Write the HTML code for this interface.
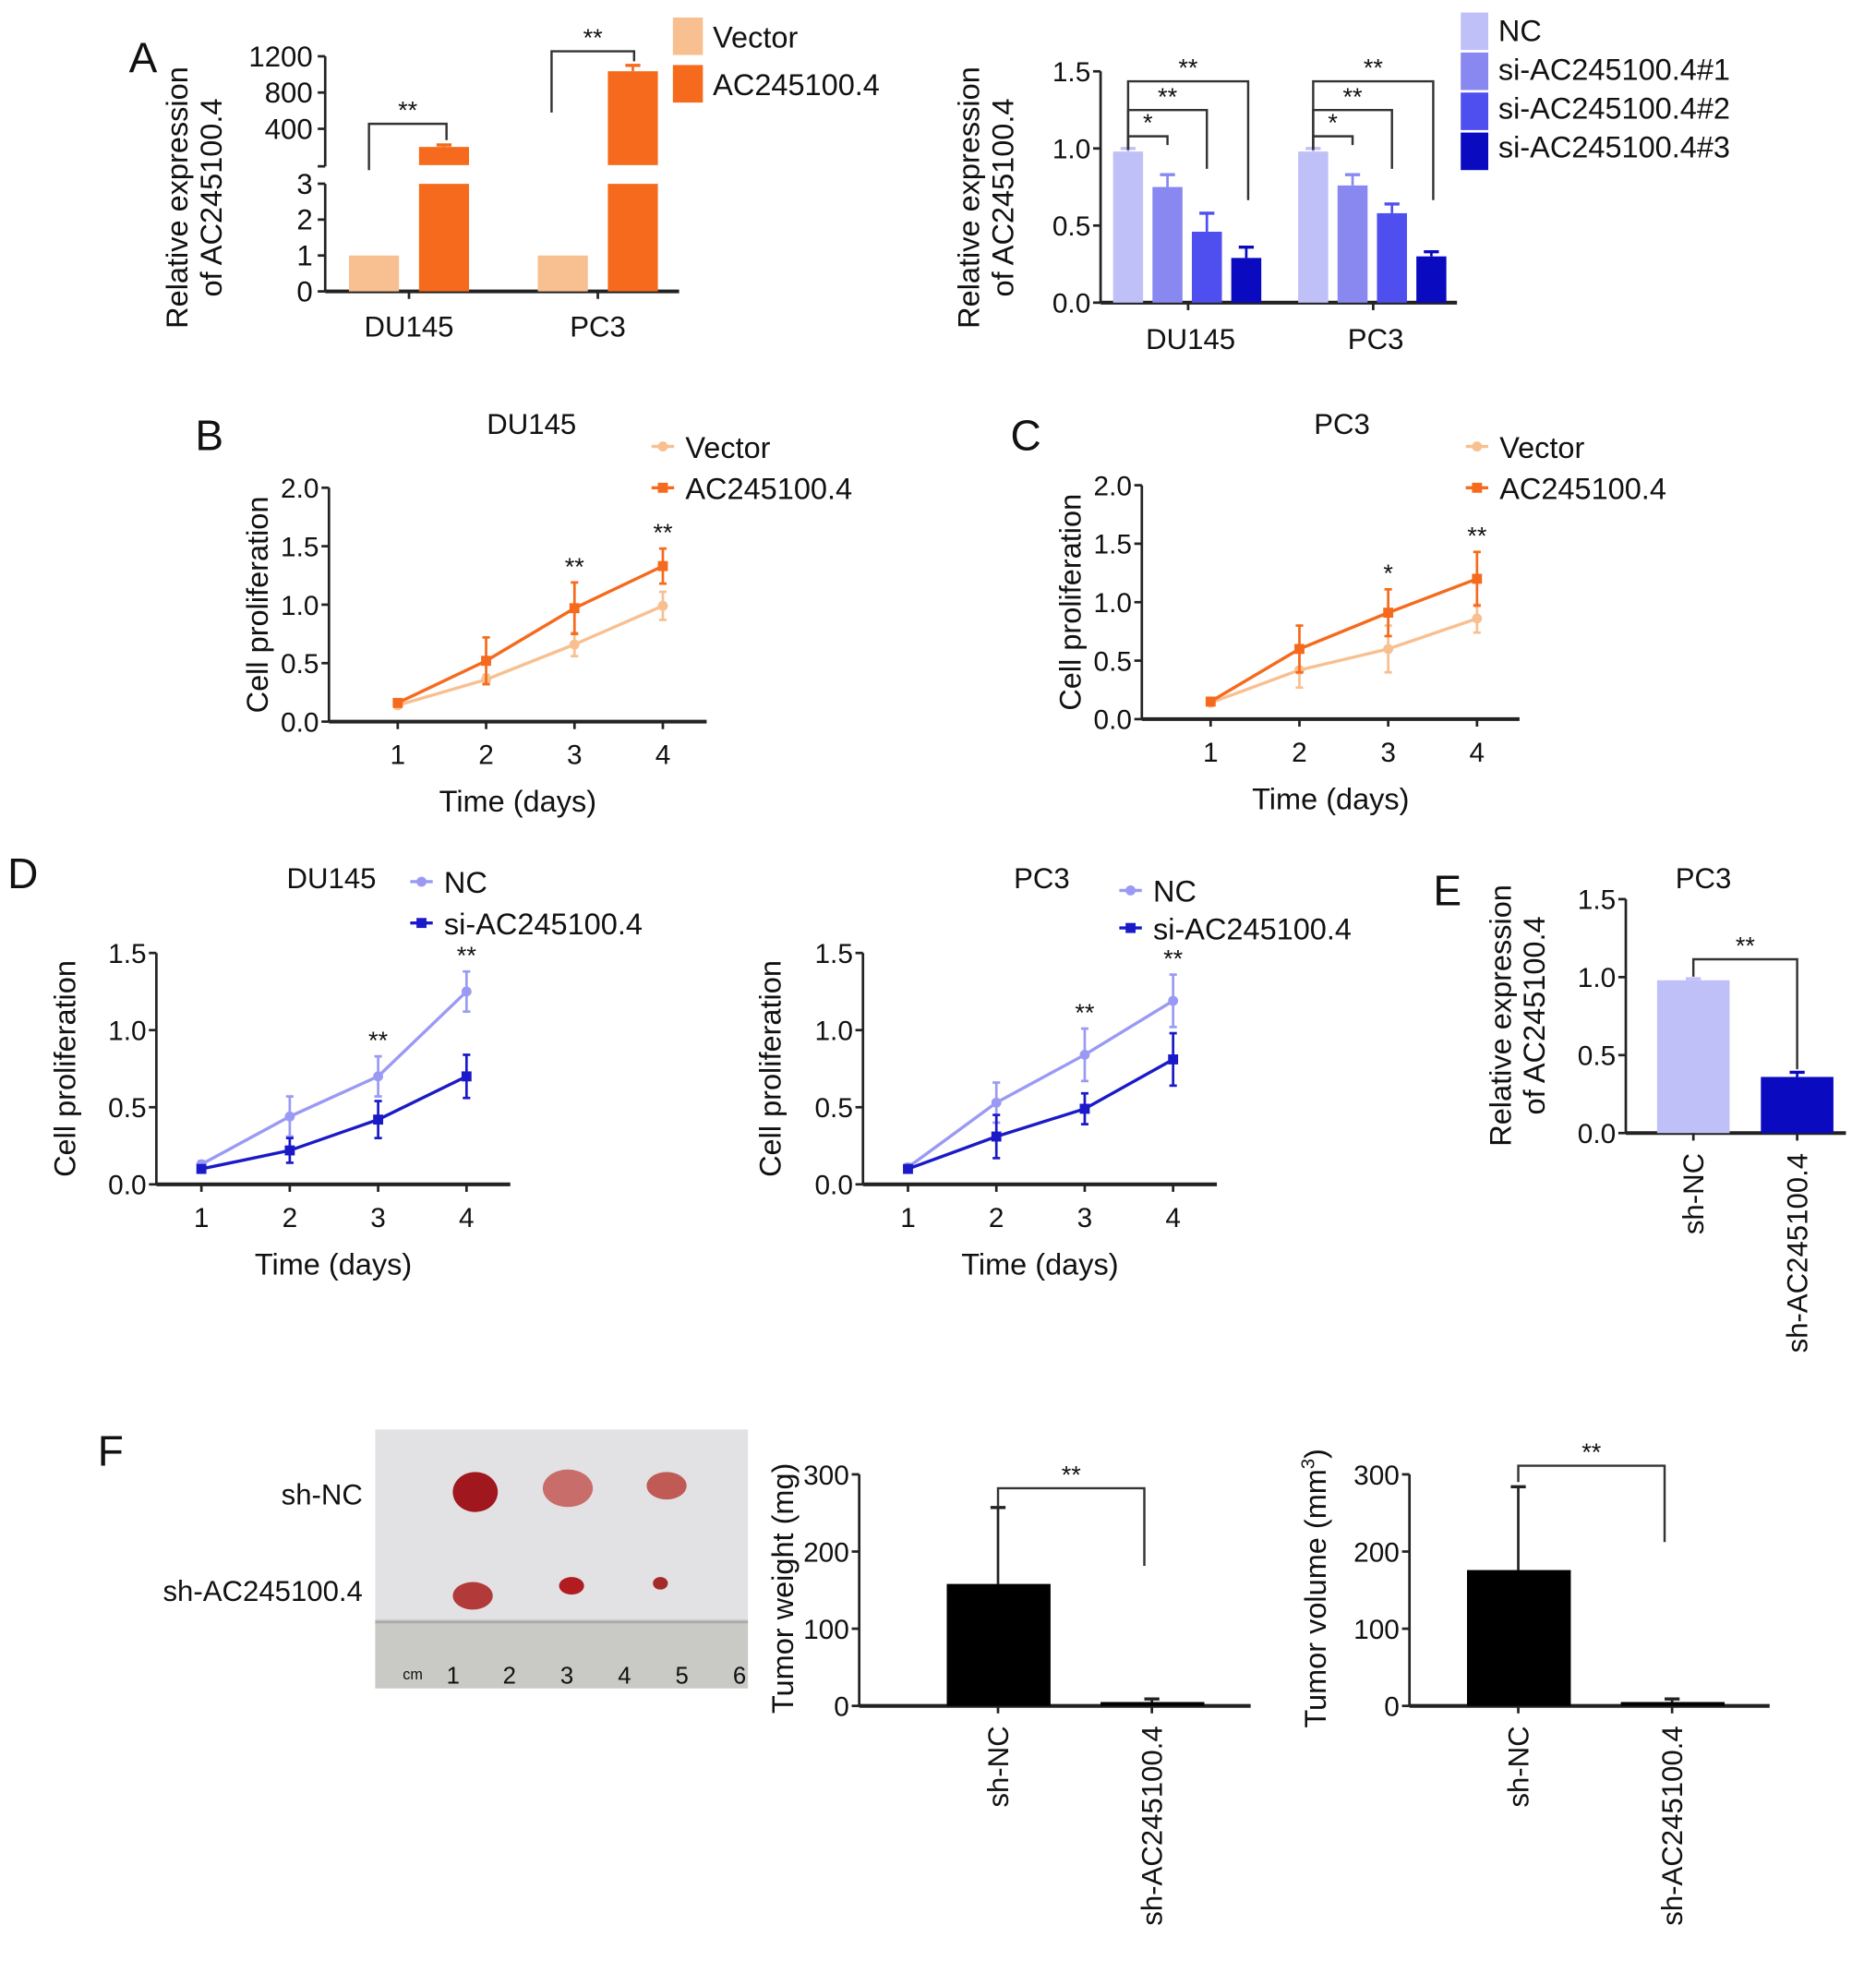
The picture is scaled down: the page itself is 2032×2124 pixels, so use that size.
<!DOCTYPE html>
<html><head><meta charset="utf-8"><style>
html,body{margin:0;padding:0;background:#fff}
svg{display:block}
text{font-family:"Liberation Sans",sans-serif;fill:#111}
</style></head><body>
<svg id="fig" xmlns="http://www.w3.org/2000/svg" width="2032" height="2124" viewBox="0 0 1500 1568">
<rect width="1500" height="1568" fill="#fff"/>
<g>
<rect x="300" y="1143" width="298" height="207" fill="#e2e1e3"/>
<rect x="300" y="1295" width="298" height="55" fill="#c9c9c6"/>
<line x1="300" y1="1297" x2="598" y2="1297" stroke="#aaa" stroke-width="2"/>
<ellipse cx="380" cy="1193" rx="18" ry="16" fill="#a0171d"/>
<ellipse cx="454" cy="1190" rx="20" ry="15" fill="#c96d6a"/>
<ellipse cx="533" cy="1188" rx="16" ry="11" fill="#c05a55"/>
<ellipse cx="378" cy="1276" rx="16" ry="11" fill="#b23a38"/>
<ellipse cx="457" cy="1268" rx="10" ry="7" fill="#b01c20"/>
<ellipse cx="528" cy="1266" rx="6" ry="5" fill="#a52a2a"/>
<text x="322" y="1343" font-size="12">cm</text>
<text x="357" y="1346" font-size="19">1</text><text x="402" y="1346" font-size="19">2</text><text x="448" y="1346" font-size="19">3</text><text x="494" y="1346" font-size="19">4</text><text x="540" y="1346" font-size="19">5</text><text x="586" y="1346" font-size="19">6</text>
</g>
<text x="290" y="1203" font-size="23" text-anchor="end">sh-NC</text>
<text x="290" y="1280" font-size="23" text-anchor="end">sh-AC245100.4</text>
<g id="g"></g>
</svg>
<script>
const aLeftGroups=["DU145","PC3"];
const aLeftVector=[1,1];
const aLeftAC=[200,1035];
const aLeftACerr=[22,65];
const aRightGroups=["DU145","PC3"];
const aRightSeries=["NC","si-AC245100.4#1","si-AC245100.4#2","si-AC245100.4#3"];
const aRightDU=[0.98,0.75,0.46,0.29];
const aRightDUerr=[0.02,0.08,0.12,0.07];
const aRightPC=[0.98,0.76,0.58,0.30];
const aRightPCerr=[0.02,0.07,0.06,0.03];
const days=[1,2,3,4];
const bVector=[0.14,0.36,0.66,0.99], bVectorErr=[0.02,0.04,0.1,0.12];
const bAC=[0.16,0.52,0.97,1.33], bACErr=[0.02,0.2,0.22,0.15];
const bStars=["","","**","**"];
const cVector=[0.14,0.42,0.6,0.86], cVectorErr=[0.02,0.15,0.2,0.12];
const cAC=[0.15,0.6,0.91,1.2], cACErr=[0.02,0.2,0.2,0.23];
const cStars=["","","*","**"];
const dDuNC=[0.13,0.44,0.7,1.25], dDuNCErr=[0.02,0.13,0.13,0.13];
const dDuSi=[0.1,0.22,0.42,0.7], dDuSiErr=[0.02,0.08,0.12,0.14];
const dDuStars=["","","**","**"];
const dPcNC=[0.11,0.53,0.84,1.19], dPcNCErr=[0.02,0.13,0.17,0.17];
const dPcSi=[0.1,0.31,0.49,0.81], dPcSiErr=[0.02,0.14,0.1,0.17];
const dPcStars=["","","**","**"];
const eCats=["sh-NC","sh-AC245100.4"];
const eVals=[0.98,0.36], eErr=[0.01,0.03];
const fCats=["sh-NC","sh-AC245100.4"];
const fWeight=[158,5], fWeightErr=[99,4];
const fVolume=[176,5], fVolumeErr=[108,4];
const ticks15=[0,0.5,1.0,1.5], ticks20=[0,0.5,1.0,1.5,2.0], ticks300=[0,100,200,300];
const G=document.getElementById('g');const NS='http://www.w3.org/2000/svg';
function mk(tag,at,parent){const e=document.createElementNS(NS,tag);for(const k in at)e.setAttribute(k,at[k]);(parent||G).appendChild(e);return e;}
function line(x1,y1,x2,y2,c,w,p){return mk('line',{x1,y1,x2,y2,stroke:c||'#222','stroke-width':w||2},p);}
function txt(x,y,s,fs,anchor,p,rot){const t=mk('text',{x,y,'font-size':fs,'text-anchor':anchor||'middle'},p);if(rot)t.setAttribute('transform',`rotate(${rot} ${x} ${y})`);t.textContent=s;return t;}
function yAxis(x,yS,ticks,fmt,p){const y0=yS(ticks[0]),y1=yS(ticks[ticks.length-1]);line(x,y0,x,y1,'#222',2,p);ticks.forEach(v=>{line(x-6,yS(v),x,yS(v),'#222',2,p);txt(x-8,yS(v)+8,fmt(v),22,'end',p);});}
function star(x,y,s,p){if(s)txt(x,y,s,20,'middle',p);}
function sq(x,y,c,shape,p){if(shape==='sq')return mk('rect',{x:x-4,y:y-4,width:8,height:8,fill:c},p);return mk('circle',{cx:x,cy:y,r:4,fill:c},p);}
function lineChart(o){
  const p=mk('g',{});
  const yS=v=>o.y0-(o.y0-o.yTop)*v/o.yMax;
  const xS=d=>o.x1+(o.x4-o.x1)*(d-1)/3;
  yAxis(o.ax,yS,o.ticks,v=>v.toFixed(1),p);
  line(o.ax,o.y0,o.axEnd,o.y0,'#222',3,p);
  days.forEach(d=>{line(xS(d),o.y0,xS(d),o.y0+6,'#222',2,p);txt(xS(d),o.y0+34,String(d),22,'middle',p);});
  o.series.forEach(s=>{
    const sg=mk('g',{},p);
    mk('polyline',{points:s.v.map((v,i)=>xS(days[i])+','+yS(v)).join(' '),fill:'none',stroke:s.c,'stroke-width':2.5},sg);
    s.v.forEach((v,i)=>{const x=xS(days[i]);line(x,yS(v-s.e[i]),x,yS(v+s.e[i]),s.c,2,sg);line(x-3,yS(v+s.e[i]),x+3,yS(v+s.e[i]),s.c,2,sg);line(x-3,yS(v-s.e[i]),x+3,yS(v-s.e[i]),s.c,2,sg);sq(x,yS(v),s.c,s.shape,sg);});
  });
  o.stars.forEach((s,i)=>{const mx=Math.max(...o.series.map(se=>se.v[i]+se.e[i]));star(xS(days[i]),yS(mx)-6,s,p);});
  txt(o.titleX,o.titleY,o.title,23,'middle',p);
  txt(o.ytX,(o.y0+o.yTop)/2,'Cell proliferation',24,'middle',p,-90);
  txt((o.ax+o.axEnd)/2,o.y0+72,'Time (days)',24,'middle',p);
  o.legend.forEach(l=>{const lg=mk('g',{},p);line(l.x-9,l.y,l.x+9,l.y,l.c,2.5,lg);sq(l.x,l.y,l.c,l.shape,lg);txt(l.x+18,l.y+9,l.t,24,'start',lg);});
}
const OR1='#f8c090',OR2='#f56a1c',BL1='#9a9af5',BL2='#1a1ac8';
lineChart({name:'chart-b-du145',ax:263,axEnd:565,y0:577,yTop:390,yMax:2,ticks:ticks20,x1:318,x4:530,title:'DU145',titleX:425,titleY:347,ytX:214,
  series:[{name:'series-vector',v:bVector,e:bVectorErr,c:OR1,shape:'c'},{name:'series-ac245100-4',v:bAC,e:bACErr,c:OR2,shape:'sq'}],stars:bStars,
  legend:[{x:530,y:357,c:OR1,t:'Vector',shape:'c'},{x:530,y:390,c:OR2,t:'AC245100.4',shape:'sq'}]});
lineChart({name:'chart-c-pc3',ax:913,axEnd:1215,y0:575,yTop:388,yMax:2,ticks:ticks20,x1:968,x4:1181,title:'PC3',titleX:1073,titleY:347,ytX:864,
  series:[{name:'series-vector',v:cVector,e:cVectorErr,c:OR1,shape:'c'},{name:'series-ac245100-4',v:cAC,e:cACErr,c:OR2,shape:'sq'}],stars:cStars,
  legend:[{x:1181,y:357,c:OR1,t:'Vector',shape:'c'},{x:1181,y:390,c:OR2,t:'AC245100.4',shape:'sq'}]});
lineChart({name:'chart-d-du145',ax:125,axEnd:408,y0:947,yTop:762,yMax:1.5,ticks:ticks15,x1:161,x4:373,title:'DU145',titleX:265,titleY:710,ytX:60,
  series:[{name:'series-nc',v:dDuNC,e:dDuNCErr,c:BL1,shape:'c'},{name:'series-si',v:dDuSi,e:dDuSiErr,c:BL2,shape:'sq'}],stars:dDuStars,
  legend:[{x:337,y:705,c:BL1,t:'NC',shape:'c'},{x:337,y:738,c:BL2,t:'si-AC245100.4',shape:'sq'}]});
lineChart({name:'chart-d-pc3',ax:690,axEnd:973,y0:947,yTop:762,yMax:1.5,ticks:ticks15,x1:726,x4:938,title:'PC3',titleX:833,titleY:710,ytX:624,
  series:[{name:'series-nc',v:dPcNC,e:dPcNCErr,c:BL1,shape:'c'},{name:'series-si',v:dPcSi,e:dPcSiErr,c:BL2,shape:'sq'}],stars:dPcStars,
  legend:[{x:904,y:712,c:BL1,t:'NC',shape:'c'},{x:904,y:742,c:BL2,t:'si-AC245100.4',shape:'sq'}]});
function bar(p,x,w,yTop,yBot,c,name){const r=mk('rect',{x,y:Math.min(yTop,yBot),width:w,height:Math.abs(yBot-yTop),fill:c},p);return r;}
function err(p,x,y1,y2,c){line(x,y1,x,y2,c,2,p);line(x-6,y2,x+6,y2,c,2.5,p);}
function bracket(p,x1,x2,y,yl,yr,s){mk('polyline',{points:`${x1},${yl} ${x1},${y} ${x2},${y} ${x2},${yr}`,fill:'none',stroke:'#333','stroke-width':1.8},p);txt((x1+x2)/2,y-4,s,20,'middle',p);}
(function(){
  const p=mk('g',{});
  const yL=v=>233-28.7*v, yU=v=>132-0.0725*v;
  line(260,233,260,147,'#222',2,p);line(260,133,260,45,'#222',2,p);
  [0,1,2,3].forEach(v=>{line(254,yL(v),260,yL(v),'#222',2,p);txt(250,yL(v)+8,String(v),23,'end',p);});
  [400,800,1200].forEach(v=>{line(254,yU(v),260,yU(v),'#222',2,p);txt(250,yU(v)+8,String(v),23,'end',p);});
  line(254,133,260,133,'#222',2,p);
  line(260,233,543,233,'#222',3,p);
  const gx=[279,430];
  aLeftGroups.forEach((g,i)=>{
    bar(p,gx[i],40,yL(aLeftVector[i]),233,OR1,'bar-vector-'+g.toLowerCase());
    bar(p,gx[i]+56,40,147,233,OR2,'bar-ac-'+g.toLowerCase()+'-lower');
    bar(p,gx[i]+56,40,yU(aLeftAC[i]),132,OR2,'bar-ac-'+g.toLowerCase()+'-upper');
    err(p,gx[i]+76,yU(aLeftAC[i]),yU(aLeftAC[i]+aLeftACerr[i]),OR2);
    line(gx[i]+48,233,gx[i]+48,239,'#222',2,p);
    txt(gx[i]+48,269,g,23,'middle',p);
  });
  bracket(p,295,357,99,136,112,'**');
  bracket(p,441,507,41,90,49,'**');
  txt(150,158,'Relative expression',24,'middle',p,-90);
  txt(177,158,'of AC245100.4',24,'middle',p,-90);
  [[OR1,'Vector',14],[OR2,'AC245100.4',52]].forEach(l=>{const lg=mk('g',{},p);mk('rect',{x:538,y:l[2],width:24,height:30,fill:l[0]},lg);txt(570,l[2]+24,l[1],24,'start',lg);});
})();
(function(){
  const p=mk('g',{});
  const yS=v=>242-123.3*v;
  yAxis(880,yS,ticks15,v=>v.toFixed(1),p);
  line(880,242,1165,242,'#222',3,p);
  const cols=['#c0c0f8','#8888f0','#4f4ff0','#0a0ac0'];
  const gx=[890,1038];const vals=[aRightDU,aRightPC],errs=[aRightDUerr,aRightPCerr];
  aRightGroups.forEach((g,gi)=>{
    vals[gi].forEach((v,i)=>{const x=gx[gi]+i*31.5;bar(p,x,24,yS(v),242,cols[i],'bar-'+g.toLowerCase()+'-'+i);err(p,x+12,yS(v),yS(v+errs[gi][i]),cols[i]);});
    line(gx[gi]+60,242,gx[gi]+60,248,'#222',2,p);
    txt(gx[gi]+62,279,g,23,'middle',p);
    const x0=gx[gi]+12;
    bracket(p,x0,x0+31.5,109,120,116,'*');
    bracket(p,x0,x0+63,88,120,135,'**');
    bracket(p,x0,x0+96,65,120,160,'**');
  });
  txt(783,158,'Relative expression',24,'middle',p,-90);
  txt(810,158,'of AC245100.4',24,'middle',p,-90);
  aRightSeries.forEach((s,i)=>{const lg=mk('g',{},p);mk('rect',{x:1168,y:10+i*32,width:22,height:30,fill:cols[i]},lg);txt(1198,33+i*31,s,24,'start',lg);});
})();
(function(){
  const p=mk('g',{});
  const yS=v=>906-124.7*v;
  yAxis(1300,yS,ticks15,v=>v.toFixed(1),p);
  line(1300,906,1476,906,'#222',3,p);
  const cols=['#c0c0f8','#0a0ac0'];const bx=[1325,1408];
  eCats.forEach((c,i)=>{bar(p,bx[i],58,yS(eVals[i]),906,cols[i],'bar-'+c.toLowerCase());err(p,bx[i]+29,yS(eVals[i]),yS(eVals[i]+eErr[i]),cols[i]);line(bx[i]+29,906,bx[i]+29,912,'#222',2,p);txt(bx[i]+37,922,c,23,'end',p,-90);});
  bracket(p,1354,1437,767,781,855,'**');
  txt(1362,710,'PC3',23,'middle',p);
  txt(1208,812,'Relative expression',24,'middle',p,-90);
  txt(1235,812,'of AC245100.4',24,'middle',p,-90);
})();
function tumorChart(name,ax,axEnd,bx,vals,errs,title,tx,br){
  const p=mk('g',{});
  const yS=v=>1364-0.617*v;
  yAxis(ax,yS,ticks300,v=>String(v),p);
  line(ax,1364,axEnd,1364,'#222',3,p);
  fCats.forEach((c,i)=>{bar(p,bx[i],83,yS(vals[i]),1364,'#000','bar-'+c.toLowerCase());err(p,bx[i]+41,yS(vals[i]),yS(vals[i]+errs[i]),'#222');line(bx[i]+41,1364,bx[i]+41,1370,'#222',2,p);txt(bx[i]+49,1380,c,23,'end',p,-90);});
  bracket(p,bx[0]+41,bx[1]+35,br[0],br[1],br[2],'**');
  const t=txt(tx,1270,'',24,'middle',p,-90);t.textContent=title[0];
  if(title[1]){const ts=mk('tspan',{'font-size':15,dy:-9},t);ts.textContent=title[1];const t2=mk('tspan',{dy:9},t);t2.textContent=')';}
}
tumorChart('chart-f-tumor-weight',687,1000,[757,880],fWeight,fWeightErr,['Tumor weight (mg)'],634,[1190,1205,1252]);
tumorChart('chart-f-tumor-volume',1127,1415,[1173,1296],fVolume,fVolumeErr,['Tumor volume (mm','3'],1060,[1172,1185,1233]);
[['A',103,58],['B',156,360],['C',808,360],['D',6,710],['E',1146,724],['F',78,1172]].forEach(l=>{const t=txt(l[1],l[2],l[0],34,'start');});
</script>
</body></html>
